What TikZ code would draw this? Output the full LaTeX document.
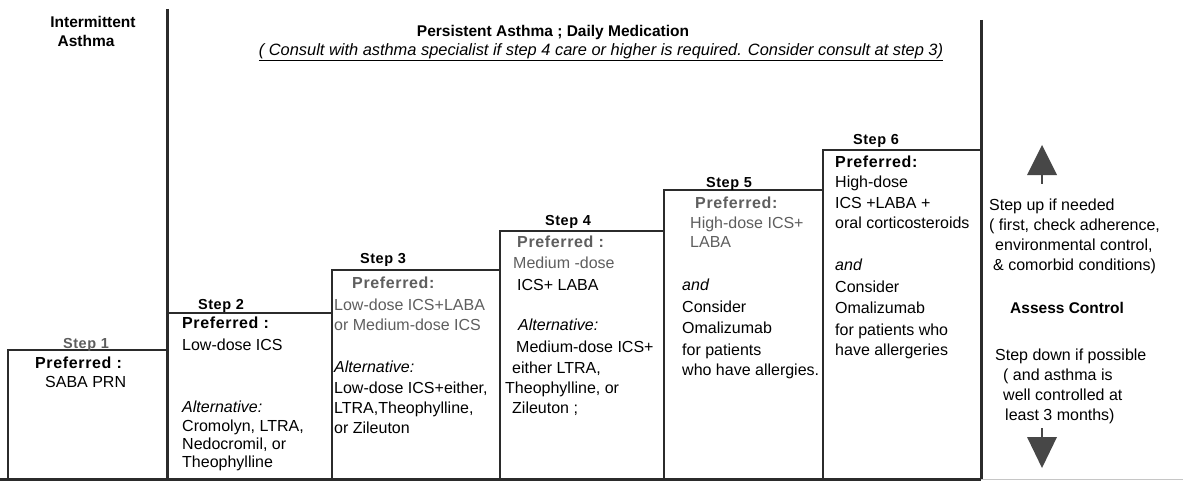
\documentclass[tikz,border=0pt]{standalone}
\usepackage{fontspec}
\setmainfont{Liberation Sans}
\newfontfamily\spacedsans[LetterSpace=4]{Liberation Sans}
\definecolor{ink}{HTML}{2B2B2B}
\definecolor{soft}{HTML}{5E5E5E}
\definecolor{arrowgray}{HTML}{474747}
\newcommand{\pref}[1]{{\spacedsans\bfseries #1}}
\begin{document}
\begin{tikzpicture}[x=1pt,y=-1pt,
  body/.style={anchor=base west, yshift=-5.5pt, inner sep=0pt,
    font=\fontsize{16}{19}\selectfont},
  stepname/.style={anchor=base, yshift=-5pt, inner sep=0pt,
    font=\spacedsans\bfseries\fontsize{14.5}{17}\selectfont},
  title/.style={anchor=base, yshift=-5.5pt, inner sep=0pt,
    font=\bfseries\fontsize{15.5}{19}\selectfont},
  heavy/.style={line width=3pt, draw=ink},
  tread/.style={line width=2.4pt, draw=ink},
  riser/.style={line width=1.4pt, draw=ink}]
\useasboundingbox (0,0) rectangle (1183,484);

% frame: the two tall dividers and the floor
\draw[heavy] (167,9) -- (167,479);
\draw[heavy] (981,20) -- (981,479);
\draw[heavy] (0,479) -- (981,479);
\draw[line width=1pt, draw=gray!45] (981,479) -- (1183,479);

% staircase
\draw[riser] (8,479) -- (8,350);
\draw[tread] (7,350) -- (167,350);
\draw[tread] (167,313) -- (332,313);
\draw[riser] (332,479) -- (332,270);
\draw[tread] (331,270) -- (500,270);
\draw[riser] (500,479) -- (500,231);
\draw[tread] (499,231) -- (664,231);
\draw[riser] (664,479) -- (664,190);
\draw[tread] (663,190) -- (823,190);
\draw[riser] (823,479) -- (823,150);
\draw[tread] (822,150) -- (981,150);

% headings
\node[title] (inter1) at (93,22) {Intermittent};
\node[title] (inter2) at (86,41) {Asthma};
\node[title] (persist) at (553,31) {Persistent Asthma ; Daily Medication};
\node[anchor=base, yshift=-5.5pt, inner sep=0pt,
  font=\itshape\fontsize{16.4}{19}\selectfont] (consult) at (601,50)
  {\underline{( Consult with asthma specialist if step 4 care or higher is required. Consider consult at step 3)}};

% step labels
\node[stepname, text=soft] (st1) at (86,343) {Step 1};
\node[stepname] (st2) at (221,304) {Step 2};
\node[stepname] (st3) at (383,258) {Step 3};
\node[stepname] (st4) at (568,220) {Step 4};
\node[stepname] (st5) at (729,182) {Step 5};
\node[stepname] (st6) at (876,139) {Step 6};

% step 1
\node[body] (a1) at (35,363) {\pref{Preferred :}};
\node[body] (a2) at (45,382) {SABA PRN};

% step 2
\foreach \yy/\tx [count=\i] in {
  323/{\pref{Preferred :}},
  345/{Low-dose ICS},
  407/{\itshape Alternative:},
  426/{Cromolyn, LTRA,},
  444/{Nedocromil, or},
  462/{Theophylline}}
  \node[body] (b\i) at (182,\yy) {\tx};

% step 3
\node[body, text=soft] (c0) at (352,283) {\pref{Preferred:}};
\foreach \yy/\tx [count=\i] in {
  305/{\color{soft}Low-dose ICS+LABA},
  325/{\color{soft}or Medium-dose ICS},
  367/{\itshape Alternative:},
  388/{Low-dose ICS+either,},
  408/{LTRA,Theophylline,},
  428/{or Zileuton}}
  \node[body] (c\i) at (334,\yy) {\tx};

% step 4
\node[body, text=soft] (d0) at (517,242) {\pref{Preferred :}};
\node[body, text=soft] (d1) at (513,263) {Medium -dose};
\node[body] (d2) at (517,285) {ICS+ LABA};
\node[body] (d3) at (518,325) {\itshape Alternative:};
\node[body] (d4) at (516,347) {Medium-dose ICS+};
\node[body] (d5) at (512,368) {either LTRA,};
\node[body] (d6) at (505,388) {Theophylline, or};
\node[body] (d7) at (512,408) {Zileuton ;};

% step 5
\node[body, text=soft] (e0) at (695,203) {\pref{Preferred:}};
\node[body, text=soft] (e1) at (690,223) {High-dose ICS+};
\node[body, text=soft] (e2) at (690,242) {LABA};
\foreach \yy/\tx [count=\i from 3] in {
  285/{\itshape and},
  307/{Consider},
  328/{Omalizumab},
  350/{for patients},
  370/{who have allergies.}}
  \node[body] (e\i) at (682,\yy) {\tx};

% step 6
\foreach \yy/\tx [count=\i] in {
  162/{\pref{Preferred:}},
  182/{High-dose},
  203/{ICS +LABA +},
  223/{oral corticosteroids},
  265/{\itshape and},
  287/{Consider},
  308/{Omalizumab},
  330/{for patients who},
  350/{have allergeries}}
  \node[body] (f\i) at (835,\yy) {\tx};

% step up / step down column
\node[body] (r1) at (989,205) {Step up if needed};
\node[body] (r2) at (989,225) {( first, check adherence,};
\node[body] (r3) at (995,245) {environmental control,};
\node[body] (r4) at (993,265) {\& comorbid conditions)};
\node[body, font=\bfseries\fontsize{15.5}{19}\selectfont] (r5) at (1010,308) {Assess Control};
\node[body] (r6) at (995,355) {Step down if possible};
\node[body] (r7) at (1003,375) {( and asthma is};
\node[body] (r8) at (1003,395) {well controlled at};
\node[body] (r9) at (1005,415) {least 3 months)};

% up and down arrows
\fill[arrowgray] (1042,145) -- (1057,175) -- (1027,175) -- cycle;
\draw[arrowgray, line width=2.6pt] (1042,174) -- (1042,184);
\draw[arrowgray, line width=2.6pt] (1042,428) -- (1042,438);
\fill[arrowgray] (1027,437) -- (1057,437) -- (1042,468) -- cycle;
\end{tikzpicture}
\end{document}
